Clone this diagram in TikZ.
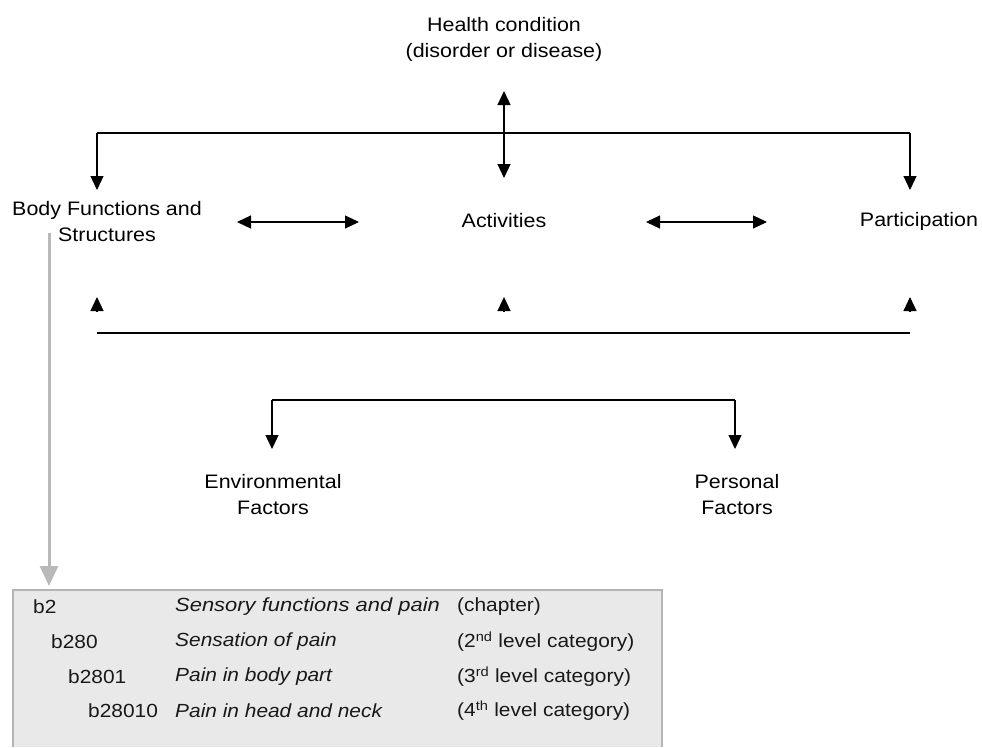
\documentclass[tikz,border=0pt]{standalone}
\usepackage{fontspec}
\setmainfont{Liberation Sans}[FakeStretch=1.1]
\usetikzlibrary{arrows.meta}
\definecolor{boxfill}{HTML}{E9E9E9}
\definecolor{boxline}{HTML}{B4B4B4}
\definecolor{grayarrow}{HTML}{B9B9B9}
\begin{document}
\begin{tikzpicture}[x=1pt,y=-1pt,
  lbl/.style={font=\fontsize{19.5}{26}\selectfont, align=center, inner sep=0pt},
  tbl/.style={font=\fontsize{19}{22}\selectfont, anchor=west, inner sep=0pt, text=black!90},
  conn/.style={line width=1.2pt},
  arr/.style={conn, -{Triangle[length=14pt,width=13pt]}},
  darr/.style={conn, {Triangle[length=14pt,width=13pt]}-{Triangle[length=14pt,width=13pt]}},
  grayarr/.style={draw=grayarrow, line width=3pt, -{Triangle[length=20pt,width=18pt]}}]
\useasboundingbox (0,0) rectangle (982,747);

% main labels
\node[lbl] (hc) at (504,39) {Health condition\\(disorder or disease)};
\node[lbl] (bf) at (107,222) {Body Functions and\\Structures};
\node[lbl] (act) at (504,221) {Activities};
\node[lbl] (par) at (919,221) {Participation};
\node[lbl] (env) at (273,495) {Environmental\\Factors};
\node[lbl] (pers) at (737,495) {Personal\\Factors};

% top fork
\coordinate (hcT) at (504,91);
\coordinate (hcB) at (504,178);
\coordinate (fl) at (97,133);
\coordinate (fr) at (910,133);
\coordinate (bfT) at (97,190);
\coordinate (parT) at (910,190);
\draw[conn] (fl) -- (fr);
\draw[darr] (hcT) -- (hcB);
\draw[arr] (fl) -- (bfT);
\draw[arr] (fr) -- (parT);

% horizontal double arrows
\coordinate (d1a) at (237,222);
\coordinate (d1b) at (359,222);
\coordinate (d2a) at (646,222);
\coordinate (d2b) at (767,222);
\draw[darr] (d1a) -- (d1b);
\draw[darr] (d2a) -- (d2b);

% upward arrowheads and bar
\foreach \x/\n in {97/a,504/b,910/c}{
  \coordinate (ub\n) at (\x,311);
  \coordinate (ut\n) at (\x,297);
  \draw[conn,-{Triangle[length=14pt,width=13pt]}] (ub\n) -- (ut\n);
}
\coordinate (bl) at (97,333);
\coordinate (br) at (910,333);
\draw[line width=1.5pt] (bl) -- (br);

% lower fork
\coordinate (ll) at (272,400);
\coordinate (lr) at (735,400);
\coordinate (envT) at (272,449);
\coordinate (persT) at (735,449);
\draw[conn] (ll) -- (lr);
\draw[arr] (ll) -- (envT);
\draw[arr] (lr) -- (persT);

% gray arrow to table
\coordinate (gs) at (49,233);
\coordinate (ge) at (49,586);
\draw[grayarr] (gs) -- (ge);

% table box
\fill[boxfill] (13,590) rectangle (662,747);
\draw[boxline, line width=2pt] (13,747) -- (13,590) -- (662,590) -- (662,747);

\node[tbl] (c1) at (33,607) {b2};
\node[tbl] (c2) at (51,642) {b280};
\node[tbl] (c3) at (68,677) {b2801};
\node[tbl] (c4) at (88,711) {b28010};
\node[tbl] (n1) at (175,607) {\scalebox{1.05}[1]{\itshape Sensory functions and pain}};
\node[tbl] (n2) at (175,642) {\itshape Sensation of pain};
\node[tbl] (n3) at (175,677) {\itshape Pain in body part};
\node[tbl] (n4) at (175,711) {\itshape Pain in head and neck};
\node[tbl] (l1) at (457,607) {(chapter)};
\node[tbl] (l2) at (457,642) {(2\textsuperscript{nd} level category)};
\node[tbl] (l3) at (457,677) {(3\textsuperscript{rd} level category)};
\node[tbl] (l4) at (457,711) {(4\textsuperscript{th} level category)};
\end{tikzpicture}
\end{document}
